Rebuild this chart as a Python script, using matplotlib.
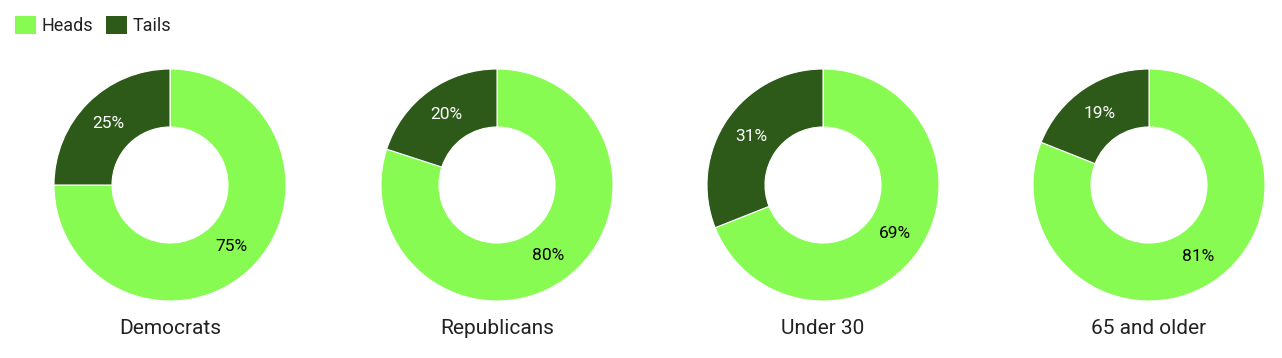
import matplotlib.pyplot as plt
from matplotlib.patches import Patch
import numpy as np

plt.rcParams['font.family'] = ['Roboto', 'DejaVu Sans']

groups = ['Democrats', 'Republicans', 'Under 30', '65 and older']
heads = [75, 80, 69, 81]
tails = [25, 20, 31, 19]
series = ['Heads', 'Tails']
colors = ['#88FB52', '#2D5A19']
text_colors = ['#000000', '#FFFFFF']

W, H = 1282, 358
fig = plt.figure(figsize=(W / 100, H / 100), dpi=100)

R_PX = 116
centers_x = [170, 497, 823, 1149]
center_y = 185

for i, name in enumerate(groups):
    cx = centers_x[i]
    ax = fig.add_axes([(cx - R_PX) / W, (H - center_y - R_PX) / H, 2 * R_PX / W, 2 * R_PX / H])
    vals = [heads[i], tails[i]]
    wedges, _ = ax.pie(vals, colors=colors, startangle=90, counterclock=False,
                       radius=1, wedgeprops=dict(width=0.5, edgecolor='white', linewidth=0.8))
    # percentage labels at wedge middle
    total = sum(vals)
    start = 90
    for v, tc in zip(vals, text_colors):
        mid = np.deg2rad(start - v / total * 360 / 2)
        start -= v / total * 360
        ax.text(0.75 * np.cos(mid), 0.75 * np.sin(mid), f'{v}%', ha='center', va='center',
                fontsize=12.5, color=tc)
    ax.set_xlim(-1, 1)
    ax.set_ylim(-1, 1)
    ax.set_aspect('equal')
    ax.axis('off')
    fig.text(cx / W, 1 - 328 / H, name, ha='center', va='center', fontsize=15, color='#222222')

handles = [Patch(facecolor=c, edgecolor='none') for c in colors]
fig.legend(handles, series, loc='upper left', bbox_to_anchor=(-0.001, 1.0), ncol=2, frameon=False,
           fontsize=13, handlelength=1.15, handleheight=1.15, handletextpad=0.3, columnspacing=0.75,
           labelcolor='#222222')

fig.savefig('out.png', dpi=100, facecolor='white')
